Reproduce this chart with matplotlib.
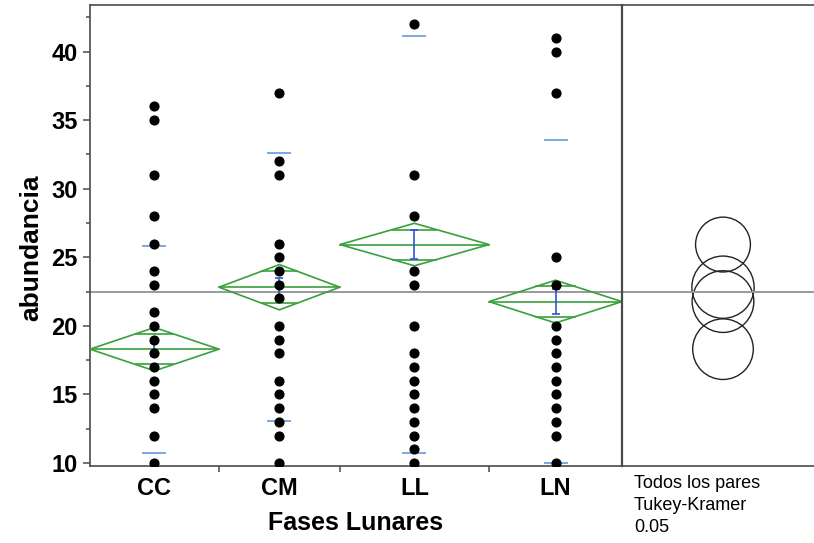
import numpy as np
import matplotlib
matplotlib.use("Agg")
import matplotlib.pyplot as plt
from matplotlib.patches import Polygon, Circle

plt.rcParams['font.family'] = ['Liberation Sans', 'DejaVu Sans']

# data
groups = ['CC', 'CM', 'LL', 'LN']
n_obs = [32, 30, 37, 33]   # relative group sizes (JMP column widths)

cc_values = [10, 12, 14, 15, 16, 17, 18, 19, 20, 21, 23, 24, 26, 28, 31, 35, 36]
cm_values = [10, 12, 13, 14, 15, 16, 18, 19, 20, 22, 23, 24, 25, 26, 31, 32, 37]
ll_values = [10, 11, 12, 13, 14, 15, 16, 17, 18, 20, 23, 24, 28, 31, 42]
ln_values = [10, 12, 13, 14, 15, 16, 17, 18, 19, 20, 23, 25, 37, 40, 41]

means = [18.30, 22.82, 25.93, 21.77]
ci95 = [1.58, 1.65, 1.55, 1.56]
std_err = [0.48, 0.70, 1.06, 0.90]
std_dev = [7.55, 9.78, 15.2, 11.75]
circle_radius = [2.21, 2.27, 2.00, 2.25]
grand_mean = 22.48

all_values = [cc_values, cm_values, ll_values, ln_values]

green = '#38a03c'
blue = '#2f55d8'
light_blue = '#7ba7e2'
spine_col = '#4a4a4a'

fig = plt.figure(figsize=(8.14, 5.43), dpi=100)
ax = fig.add_axes([90/814, 77/543, 532/814, 461/543])
ax2 = fig.add_axes([622/814, 77/543, 192/814, 461/543], sharey=ax)

edges = np.concatenate([[0], np.cumsum(n_obs)])
centers = (edges[:-1] + edges[1:]) / 2

for i in range(len(groups)):
    left, right, c = edges[i], edges[i + 1], centers[i]
    w = right - left
    m, ci = means[i], ci95[i]
    vals = all_values[i]
    ax.plot(np.full(len(vals), c), vals, 'o', color='black', ms=6.3, zorder=5)

    ax.add_patch(Polygon([(left, m), (c, m + ci), (right, m), (c, m - ci)],
                         closed=True, fill=False, edgecolor=green, lw=1.2, zorder=3))
    ax.plot([left, right], [m, m], color=green, lw=1.2, zorder=3)
    h = ci / np.sqrt(2)
    hw = (1 - 1 / np.sqrt(2)) * w / 2
    for s in (1, -1):
        ax.plot([c - hw, c + hw], [m + s * h, m + s * h], color=green, lw=1.2, zorder=3)

    ax.errorbar(c, m, yerr=std_err[i], fmt='none', ecolor=blue, capsize=3.2,
                elinewidth=1.2, capthick=1.2, zorder=4)
    ax.plot([c, c], [m - std_dev[i], m + std_dev[i]], '_', color=light_blue,
            ms=17, mew=1.4, zorder=4)

ax.axhline(grand_mean, color='#9a9a9a', lw=1.4, zorder=2)
ax2.axhline(grand_mean, color='#9a9a9a', lw=1.4, zorder=2)

ymin, ymax = 9.78, 43.4
ax.set_ylim(ymin, ymax)
ax.set_xlim(edges[0], edges[-1])

# comparison circles, x range chosen so one unit is the same length on both axes
W = (192 / 461) * (ymax - ymin)
ax2.set_xlim(0, W)
for i in range(len(groups)):
    ax2.add_patch(Circle((0.526 * W, means[i]), circle_radius[i], fill=False,
                         edgecolor='#222222', lw=1.0))

ax.set_yticks(np.arange(10, 41, 5))
ax.set_yticks(np.arange(12.5, 43, 5), minor=True)
ax.tick_params(axis='y', which='major', direction='out', length=5, width=1.1,
               color=spine_col, labelsize=17, pad=4)
ax.tick_params(axis='y', which='minor', direction='out', length=2.6, width=1.1, color=spine_col)
for lab in ax.get_yticklabels():
    lab.set_fontweight('bold')

ax.set_xticks(centers)
ax.set_xticklabels(groups, fontsize=17, fontweight='bold')
ax.set_xticks(edges[1:-1], minor=True)
ax.tick_params(axis='x', which='major', length=0, pad=8)
ax.tick_params(axis='x', which='minor', direction='out', length=4, width=1.1, color=spine_col)

for sp in ax.spines.values():
    sp.set_color(spine_col)
    sp.set_linewidth(1.2)
for sp in ax2.spines.values():
    sp.set_color(spine_col)
    sp.set_linewidth(1.2)
ax.spines['right'].set_visible(False)
ax2.spines['right'].set_visible(False)
ax2.spines['left'].set_linewidth(1.6)
ax2.tick_params(which='both', left=False, labelleft=False, bottom=False, labelbottom=False)

fig.text(31/814, 1 - 248/543, 'abundancia', rotation=90, ha='center', va='center',
         fontsize=19, fontweight='bold')
fig.text(356/814, 1 - 523/543, 'Fases Lunares', ha='center', va='center',
         fontsize=18, fontweight='bold')
fig.text(634/814, 1 - 475/543, 'Todos los pares\nTukey-Kramer\n0.05', ha='left', va='top',
         fontsize=13, linespacing=1.38)

fig.savefig('out.png', dpi=100)
